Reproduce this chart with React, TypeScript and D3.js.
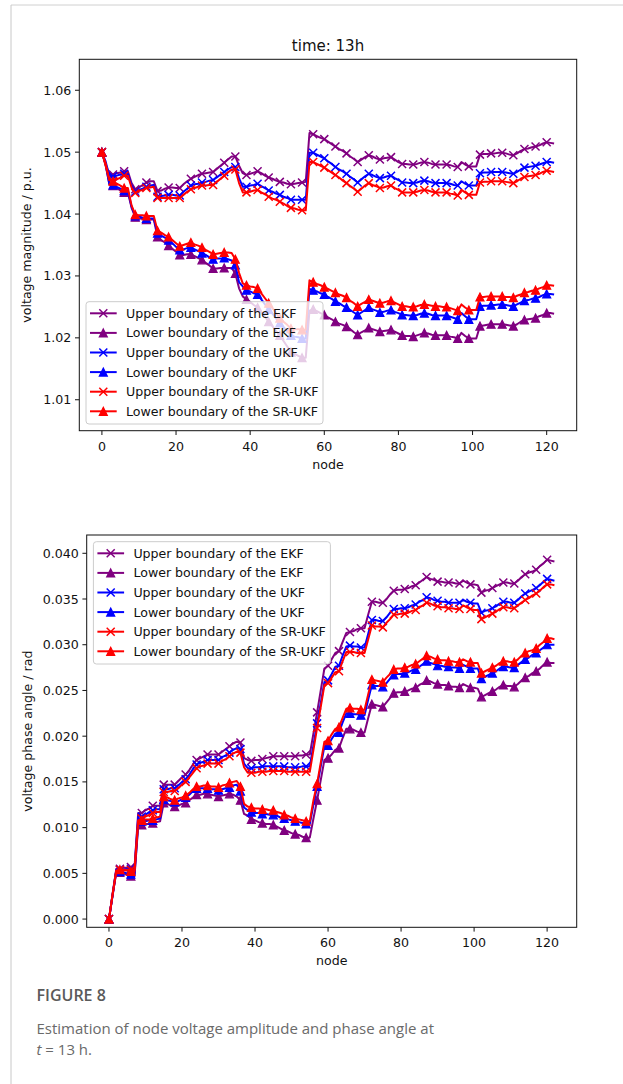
import React from 'react';
import * as d3 from 'd3';

// voltage magnitude (p.u.), one value per node 0..122
const magEkfUpper = [
  1.05, 1.048, 1.0464, 1.0464, 1.0466, 1.0467, 1.0469, 1.0469, 1.045, 1.044, 1.0443, 1.0447, 1.0451, 1.0453, 1.0453,
  1.0437, 1.0438, 1.0441, 1.0443, 1.0443, 1.0442, 1.0442, 1.0448, 1.0453, 1.0457, 1.046, 1.0463, 1.0465, 1.0466, 1.0467,
  1.0468, 1.0473, 1.0478, 1.0483, 1.0488, 1.0493, 1.0493, 1.0478, 1.0466, 1.0463, 1.0465, 1.0467, 1.0469, 1.0466, 1.0462,
  1.0459, 1.0457, 1.0454, 1.0452, 1.0451, 1.0449, 1.0448, 1.0449, 1.045, 1.0451, 1.0452, 1.0531, 1.0529, 1.0526, 1.0523,
  1.0521, 1.0517, 1.0513, 1.0509, 1.0505, 1.0502, 1.0498, 1.0493, 1.0489, 1.0484, 1.0488, 1.0492, 1.0495, 1.0493, 1.049,
  1.0488, 1.049, 1.0491, 1.0492, 1.0488, 1.0484, 1.0481, 1.0481, 1.048, 1.048, 1.0481, 1.0483, 1.0484, 1.0483, 1.0481,
  1.048, 1.048, 1.048, 1.048, 1.0479, 1.0477, 1.0476, 1.0484, 1.048, 1.0477, 1.0477, 1.0477, 1.0496, 1.0497, 1.0497,
  1.0498, 1.0498, 1.0499, 1.0499, 1.0498, 1.0496, 1.0495, 1.0498, 1.0502, 1.0505, 1.0506, 1.0508, 1.0509, 1.0511, 1.0514,
  1.0516, 1.0515, 1.0514,
];
const magEkfLower = [
  1.05, 1.048, 1.0448, 1.0446, 1.0442, 1.0438, 1.0435, 1.0435, 1.041, 1.0395, 1.0393, 1.0392, 1.0391, 1.0391, 1.0391,
  1.0363, 1.0358, 1.0354, 1.0349, 1.0344, 1.0339, 1.0334, 1.0334, 1.0335, 1.0335, 1.0332, 1.0329, 1.0326, 1.0321, 1.0317,
  1.0312, 1.0312, 1.0313, 1.0313, 1.0313, 1.0313, 1.0304, 1.028, 1.0267, 1.0262, 1.0258, 1.0253, 1.0249, 1.0241, 1.0234,
  1.0226, 1.0219, 1.0211, 1.0204, 1.0195, 1.0186, 1.0177, 1.0174, 1.0171, 1.0168, 1.0168, 1.0244, 1.0246, 1.0243, 1.024,
  1.0237, 1.0233, 1.023, 1.0226, 1.0223, 1.0221, 1.0218, 1.0214, 1.0209, 1.0205, 1.0209, 1.0212, 1.0216, 1.0214, 1.0212,
  1.021, 1.0211, 1.0212, 1.0213, 1.021, 1.0207, 1.0204, 1.0203, 1.0203, 1.0202, 1.0204, 1.0206, 1.0208, 1.0207, 1.0205,
  1.0204, 1.0204, 1.0204, 1.0204, 1.0202, 1.0201, 1.0199, 1.0208, 1.0203, 1.0199, 1.0199, 1.0199, 1.0219, 1.022, 1.0221,
  1.0222, 1.0222, 1.0222, 1.0222, 1.0221, 1.022, 1.0219, 1.0222, 1.0226, 1.0229, 1.023, 1.0231, 1.0232, 1.0235, 1.0237,
  1.024, 1.024, 1.0239,
];
const magUkfUpper = [
  1.05, 1.0485, 1.0462, 1.0461, 1.0462, 1.0464, 1.0465, 1.0465, 1.0446, 1.0436, 1.0439, 1.0441, 1.0444, 1.0446, 1.0447,
  1.0428, 1.0429, 1.043, 1.0431, 1.0431, 1.043, 1.043, 1.0436, 1.0441, 1.0446, 1.0448, 1.0449, 1.0451, 1.0452, 1.0454,
  1.0455, 1.0459, 1.0464, 1.0468, 1.0472, 1.0476, 1.0476, 1.0458, 1.0444, 1.0444, 1.0446, 1.0447, 1.0449, 1.0445, 1.0442,
  1.0438, 1.0436, 1.0433, 1.0431, 1.0428, 1.0426, 1.0423, 1.0423, 1.0423, 1.0423, 1.0423, 1.0499, 1.0499, 1.0496, 1.0493,
  1.049, 1.0485, 1.0481, 1.0476, 1.0472, 1.0469, 1.0465, 1.046, 1.0456, 1.0451, 1.0456, 1.0461, 1.0465, 1.0463, 1.046,
  1.0458, 1.0459, 1.0461, 1.0462, 1.0458, 1.0455, 1.0451, 1.0451, 1.045, 1.045, 1.0451, 1.0453, 1.0454, 1.0453, 1.0451,
  1.045, 1.045, 1.045, 1.045, 1.0449, 1.0447, 1.0446, 1.0453, 1.0449, 1.0446, 1.0446, 1.0446, 1.0466, 1.0467, 1.0467,
  1.0468, 1.0468, 1.0468, 1.0468, 1.0467, 1.0466, 1.0465, 1.0468, 1.0472, 1.0475, 1.0476, 1.0477, 1.0478, 1.048, 1.0482,
  1.0484, 1.0484, 1.0483,
];
const magUkfLower = [
  1.05, 1.048, 1.0449, 1.0447, 1.0444, 1.0441, 1.0438, 1.0438, 1.0412, 1.0397, 1.0396, 1.0394, 1.0393, 1.0393, 1.0393,
  1.0369, 1.0365, 1.0362, 1.0358, 1.0353, 1.0347, 1.0342, 1.0343, 1.0345, 1.0346, 1.0343, 1.034, 1.0337, 1.0334, 1.033,
  1.0327, 1.0328, 1.0328, 1.0329, 1.0327, 1.0325, 1.0318, 1.029, 1.0283, 1.0277, 1.0275, 1.0272, 1.027, 1.0262, 1.0254,
  1.0246, 1.0239, 1.0231, 1.0224, 1.0217, 1.0211, 1.0204, 1.0202, 1.0201, 1.0199, 1.0199, 1.0279, 1.0277, 1.0275, 1.0272,
  1.027, 1.0266, 1.0263, 1.0259, 1.0256, 1.0252, 1.0249, 1.0245, 1.0241, 1.0237, 1.0241, 1.0245, 1.0249, 1.0246, 1.0244,
  1.0241, 1.0242, 1.0244, 1.0245, 1.0242, 1.024, 1.0237, 1.0237, 1.0236, 1.0236, 1.0237, 1.0239, 1.024, 1.0239, 1.0237,
  1.0236, 1.0236, 1.0236, 1.0236, 1.0234, 1.0232, 1.023, 1.024, 1.0235, 1.023, 1.023, 1.023, 1.0251, 1.0252, 1.0252,
  1.0253, 1.0253, 1.0254, 1.0254, 1.0253, 1.0252, 1.0251, 1.0254, 1.0257, 1.026, 1.0261, 1.0263, 1.0264, 1.0266, 1.0269,
  1.0271, 1.0271, 1.027,
];
const magSrUpper = [
  1.05, 1.0478, 1.0455, 1.0453, 1.0456, 1.0459, 1.0462, 1.0462, 1.0443, 1.0434, 1.0437, 1.0439, 1.0442, 1.0443, 1.0444,
  1.0426, 1.0426, 1.0426, 1.0426, 1.0426, 1.0426, 1.0426, 1.0431, 1.0436, 1.044, 1.0442, 1.0444, 1.0446, 1.0446, 1.0447,
  1.0447, 1.0452, 1.0457, 1.0462, 1.0467, 1.0472, 1.0472, 1.045, 1.0435, 1.0435, 1.0436, 1.0438, 1.0439, 1.0435, 1.0432,
  1.0428, 1.0425, 1.0423, 1.042, 1.0417, 1.0413, 1.041, 1.0409, 1.0407, 1.0406, 1.0406, 1.0484, 1.0484, 1.0481, 1.0478,
  1.0475, 1.0471, 1.0467, 1.0463, 1.0459, 1.0454, 1.045, 1.0445, 1.0441, 1.0436, 1.0441, 1.0446, 1.045, 1.0447, 1.0445,
  1.0442, 1.0443, 1.0445, 1.0446, 1.0442, 1.0439, 1.0435, 1.0435, 1.0435, 1.0435, 1.0436, 1.0438, 1.0439, 1.0438, 1.0436,
  1.0435, 1.0435, 1.0435, 1.0435, 1.0433, 1.0432, 1.043, 1.0439, 1.0435, 1.0431, 1.0431, 1.0431, 1.0451, 1.0452, 1.0452,
  1.0453, 1.0453, 1.0453, 1.0453, 1.0452, 1.0451, 1.045, 1.0453, 1.0457, 1.046, 1.0461, 1.0462, 1.0463, 1.0465, 1.0468,
  1.047, 1.0469, 1.0468,
];
const magSrLower = [
  1.05, 1.0482, 1.0455, 1.0453, 1.0449, 1.0446, 1.0442, 1.0442, 1.0414, 1.0399, 1.0398, 1.0398, 1.0397, 1.0397, 1.0397,
  1.0373, 1.037, 1.0366, 1.0363, 1.0358, 1.0353, 1.0348, 1.035, 1.0352, 1.0354, 1.0351, 1.0349, 1.0346, 1.0342, 1.0339,
  1.0335, 1.0336, 1.0337, 1.0338, 1.0338, 1.0337, 1.0327, 1.0305, 1.0288, 1.0285, 1.0283, 1.0282, 1.028, 1.0272, 1.0264,
  1.0256, 1.0248, 1.024, 1.0232, 1.0226, 1.0221, 1.0215, 1.0214, 1.0214, 1.0213, 1.0213, 1.0293, 1.029, 1.0287, 1.0285,
  1.0282, 1.0279, 1.0276, 1.0273, 1.027, 1.0268, 1.0265, 1.026, 1.0256, 1.0251, 1.0255, 1.0258, 1.0262, 1.026, 1.0258,
  1.0256, 1.0257, 1.0259, 1.026, 1.0257, 1.0254, 1.0251, 1.0251, 1.025, 1.025, 1.0251, 1.0253, 1.0254, 1.0253, 1.0252,
  1.0251, 1.0251, 1.025, 1.025, 1.0248, 1.0246, 1.0244, 1.0254, 1.0249, 1.0245, 1.0245, 1.0245, 1.0266, 1.0266, 1.0267,
  1.0267, 1.0267, 1.0267, 1.0267, 1.0266, 1.0266, 1.0265, 1.0268, 1.027, 1.0273, 1.0274, 1.0276, 1.0277, 1.028, 1.0282,
  1.0285, 1.0285, 1.0284,
];

// voltage phase angle (rad), one value per node 0..122
const phaseEkfUpper = [
  0, 0.0028, 0.0055, 0.0055, 0.0056, 0.0056, 0.0057, 0.0057, 0.0116, 0.0116, 0.0119, 0.0121, 0.0124, 0.0124, 0.0124,
  0.0147, 0.0147, 0.0147, 0.0147, 0.0151, 0.0155, 0.0158, 0.0163, 0.0169, 0.0174, 0.0176, 0.0178, 0.018, 0.018, 0.018,
  0.018, 0.0183, 0.0186, 0.0189, 0.0192, 0.0194, 0.0193, 0.0176, 0.0174, 0.0173, 0.0174, 0.0174, 0.0175, 0.0176, 0.0177,
  0.0178, 0.0178, 0.0178, 0.0178, 0.0178, 0.0178, 0.0178, 0.0179, 0.0179, 0.018, 0.018, 0.0203, 0.0226, 0.025, 0.0274,
  0.0277, 0.0284, 0.0291, 0.0293, 0.0303, 0.0313, 0.0314, 0.0315, 0.0317, 0.0318, 0.0318, 0.0333, 0.0347, 0.0347, 0.0346,
  0.0346, 0.035, 0.0355, 0.0359, 0.036, 0.036, 0.0361, 0.0362, 0.0364, 0.0365, 0.0368, 0.0371, 0.0374, 0.0372, 0.0371,
  0.0369, 0.0369, 0.0368, 0.0368, 0.0368, 0.0367, 0.0367, 0.037, 0.0368, 0.0366, 0.0366, 0.0365, 0.0357, 0.0359, 0.036,
  0.0362, 0.0364, 0.0366, 0.0368, 0.0368, 0.0367, 0.0367, 0.037, 0.0374, 0.0377, 0.0379, 0.038, 0.0382, 0.0386, 0.0389,
  0.0393, 0.0392, 0.0391,
];
const phaseEkfLower = [
  0, 0.0026, 0.0051, 0.0051, 0.005, 0.0048, 0.0047, 0.0047, 0.0102, 0.0103, 0.0104, 0.0104, 0.0105, 0.0106, 0.0107,
  0.0127, 0.0126, 0.0124, 0.0123, 0.0124, 0.0126, 0.0127, 0.013, 0.0133, 0.0136, 0.0136, 0.0137, 0.0137, 0.0136, 0.0135,
  0.0134, 0.0135, 0.0136, 0.0137, 0.0136, 0.0134, 0.013, 0.0115, 0.0113, 0.0109, 0.0108, 0.0106, 0.0105, 0.0104, 0.0104,
  0.0103, 0.0101, 0.0099, 0.0097, 0.0096, 0.0094, 0.0093, 0.0092, 0.009, 0.0089, 0.0089, 0.011, 0.013, 0.0152, 0.0174,
  0.0176, 0.018, 0.0185, 0.0187, 0.0198, 0.0208, 0.0208, 0.0207, 0.0205, 0.0204, 0.0204, 0.022, 0.0235, 0.0234, 0.0233,
  0.0232, 0.0237, 0.0242, 0.0247, 0.0248, 0.0248, 0.0249, 0.025, 0.0252, 0.0253, 0.0256, 0.0258, 0.0261, 0.026, 0.0258,
  0.0257, 0.0256, 0.0256, 0.0255, 0.0254, 0.0254, 0.0253, 0.0257, 0.0255, 0.0253, 0.0253, 0.0252, 0.0243, 0.0245, 0.0247,
  0.0249, 0.0251, 0.0254, 0.0256, 0.0255, 0.0255, 0.0254, 0.0257, 0.0261, 0.0264, 0.0266, 0.0269, 0.0271, 0.0274, 0.0278,
  0.0281, 0.028, 0.028,
];
const phaseUkfUpper = [
  0, 0.0027, 0.0054, 0.0054, 0.0054, 0.0055, 0.0055, 0.0055, 0.0112, 0.0112, 0.0114, 0.0117, 0.0119, 0.012, 0.012,
  0.0142, 0.0142, 0.0143, 0.0143, 0.0146, 0.015, 0.0153, 0.0158, 0.0164, 0.0169, 0.0171, 0.0172, 0.0174, 0.0174, 0.0174,
  0.0174, 0.0177, 0.0179, 0.0182, 0.0185, 0.0187, 0.0186, 0.017, 0.0165, 0.0165, 0.0166, 0.0166, 0.0167, 0.0167, 0.0167,
  0.0167, 0.0167, 0.0167, 0.0167, 0.0166, 0.0166, 0.0166, 0.0166, 0.0167, 0.0167, 0.0167, 0.019, 0.0214, 0.0236, 0.0259,
  0.0261, 0.0268, 0.0276, 0.0277, 0.0288, 0.0298, 0.0299, 0.0298, 0.0298, 0.0297, 0.0297, 0.0312, 0.0327, 0.0327, 0.0326,
  0.0326, 0.033, 0.0335, 0.0339, 0.0339, 0.034, 0.034, 0.0341, 0.0343, 0.0344, 0.0347, 0.0349, 0.0352, 0.0351, 0.0349,
  0.0348, 0.0347, 0.0347, 0.0346, 0.0346, 0.0346, 0.0346, 0.0349, 0.0347, 0.0346, 0.0345, 0.0345, 0.0335, 0.0337, 0.0338,
  0.034, 0.0342, 0.0345, 0.0347, 0.0347, 0.0346, 0.0346, 0.0349, 0.0353, 0.0356, 0.0358, 0.036, 0.0362, 0.0365, 0.0369,
  0.0372, 0.0371, 0.037,
];
const phaseUkfLower = [
  0, 0.0026, 0.0052, 0.0052, 0.0051, 0.005, 0.0049, 0.0049, 0.0104, 0.0107, 0.0107, 0.0108, 0.0108, 0.0109, 0.011,
  0.0131, 0.013, 0.0129, 0.0128, 0.0129, 0.0131, 0.0133, 0.0136, 0.014, 0.0143, 0.0143, 0.0143, 0.0143, 0.0142, 0.0142,
  0.0141, 0.0142, 0.0143, 0.0144, 0.0146, 0.0147, 0.014, 0.0122, 0.0119, 0.0117, 0.0116, 0.0116, 0.0115, 0.0115, 0.0114,
  0.0114, 0.0113, 0.0111, 0.011, 0.0109, 0.0108, 0.0107, 0.0106, 0.0105, 0.0104, 0.0104, 0.0125, 0.0145, 0.0167, 0.0189,
  0.019, 0.0197, 0.0203, 0.0204, 0.0215, 0.0225, 0.0225, 0.0224, 0.0224, 0.0223, 0.0223, 0.024, 0.0256, 0.0255, 0.0255,
  0.0254, 0.0258, 0.0263, 0.0267, 0.0268, 0.0268, 0.0269, 0.027, 0.0272, 0.0273, 0.0276, 0.0279, 0.0282, 0.028, 0.0279,
  0.0277, 0.0277, 0.0276, 0.0276, 0.0275, 0.0275, 0.0274, 0.0278, 0.0276, 0.0274, 0.0274, 0.0274, 0.0263, 0.0265, 0.0267,
  0.0269, 0.0271, 0.0274, 0.0276, 0.0276, 0.0275, 0.0275, 0.0278, 0.0281, 0.0284, 0.0286, 0.0289, 0.0291, 0.0294, 0.0297,
  0.03, 0.03, 0.03,
];
const phaseSrUpper = [
  0, 0.0027, 0.0053, 0.0054, 0.0054, 0.0054, 0.0054, 0.0054, 0.0108, 0.011, 0.0112, 0.0114, 0.0116, 0.0117, 0.0117,
  0.0139, 0.0139, 0.014, 0.014, 0.0143, 0.0147, 0.015, 0.0155, 0.016, 0.0165, 0.0167, 0.0168, 0.017, 0.017, 0.017,
  0.017, 0.0173, 0.0175, 0.0178, 0.0181, 0.0183, 0.0182, 0.0166, 0.016, 0.016, 0.016, 0.0161, 0.0161, 0.0161, 0.0162,
  0.0162, 0.0162, 0.0162, 0.0162, 0.0161, 0.0161, 0.0161, 0.0161, 0.0161, 0.0161, 0.0161, 0.0185, 0.0209, 0.0232, 0.0256,
  0.0258, 0.0264, 0.027, 0.0271, 0.0282, 0.0292, 0.0292, 0.0292, 0.0291, 0.0291, 0.0291, 0.0306, 0.0321, 0.032, 0.032,
  0.0319, 0.0324, 0.0328, 0.0333, 0.0333, 0.0334, 0.0334, 0.0335, 0.0337, 0.0338, 0.0341, 0.0343, 0.0346, 0.0345, 0.0343,
  0.0342, 0.0341, 0.0341, 0.034, 0.034, 0.0339, 0.0339, 0.0343, 0.0341, 0.0339, 0.0338, 0.0338, 0.0328, 0.033, 0.0332,
  0.0334, 0.0336, 0.0339, 0.0341, 0.0341, 0.034, 0.034, 0.0343, 0.0346, 0.0349, 0.0351, 0.0354, 0.0356, 0.0359, 0.0363,
  0.0366, 0.0366, 0.0365,
];
const phaseSrLower = [
  0, 0.0027, 0.0053, 0.0054, 0.0053, 0.0053, 0.0052, 0.0052, 0.0107, 0.0108, 0.0109, 0.0109, 0.011, 0.0111, 0.0112,
  0.0134, 0.0133, 0.0131, 0.013, 0.0132, 0.0133, 0.0135, 0.0138, 0.0142, 0.0145, 0.0145, 0.0146, 0.0146, 0.0145, 0.0145,
  0.0144, 0.0146, 0.0147, 0.0149, 0.015, 0.0151, 0.0145, 0.0126, 0.0123, 0.0122, 0.0121, 0.0121, 0.012, 0.012, 0.0119,
  0.0119, 0.0117, 0.0116, 0.0114, 0.0113, 0.0111, 0.011, 0.0109, 0.0108, 0.0107, 0.0107, 0.013, 0.0148, 0.0171, 0.0194,
  0.0195, 0.0202, 0.0208, 0.021, 0.022, 0.023, 0.0231, 0.023, 0.023, 0.0229, 0.0229, 0.0246, 0.0262, 0.0261, 0.026,
  0.0259, 0.0264, 0.0268, 0.0273, 0.0274, 0.0274, 0.0275, 0.0276, 0.0278, 0.0279, 0.0282, 0.0285, 0.0288, 0.0287, 0.0285,
  0.0284, 0.0283, 0.0283, 0.0282, 0.0282, 0.0281, 0.0281, 0.0284, 0.0282, 0.0281, 0.028, 0.028, 0.0269, 0.0271, 0.0273,
  0.0275, 0.0277, 0.028, 0.0282, 0.0282, 0.0281, 0.0281, 0.0284, 0.0288, 0.0291, 0.0293, 0.0294, 0.0296, 0.03, 0.0303,
  0.0307, 0.0307, 0.0306,
];

const seriesLabels = [
  'Upper boundary of the EKF',
  'Lower boundary of the EKF',
  'Upper boundary of the UKF',
  'Lower boundary of the UKF',
  'Upper boundary of the SR-UKF',
  'Lower boundary of the SR-UKF',
];
const seriesColors = ['purple', 'purple', 'blue', 'blue', 'red', 'red'];
const seriesMarkers = ['x', '^', 'x', '^', 'x', '^'];

const nodeTicks = [0, 20, 40, 60, 80, 100, 120];
const magTicks = [1.01, 1.02, 1.03, 1.04, 1.05, 1.06];
const magTickLabels = ['1.01', '1.02', '1.03', '1.04', '1.05', '1.06'];
const phaseTicks = [0, 0.005, 0.01, 0.015, 0.02, 0.025, 0.03, 0.035, 0.04];
const phaseTickLabels = ['0.000', '0.005', '0.010', '0.015', '0.020', '0.025', '0.030', '0.035', '0.040'];

const FONT = 'DejaVu Sans, sans-serif';
const FS = 12.6;

function Marker({ kind, x, y, color }) {
  if (kind === 'x') {
    const s = 4;
    return (
      <path
        d={`M${x - s},${y - s}L${x + s},${y + s}M${x - s},${y + s}L${x + s},${y - s}`}
        stroke={color}
        strokeWidth={1.5}
        fill="none"
      />
    );
  }
  const s = 4;
  return (
    <path
      d={`M${x},${y - s}L${x + s},${y + s}L${x - s},${y + s}Z`}
      fill={color}
      stroke={color}
      strokeWidth={1.2}
      strokeLinejoin="miter"
    />
  );
}

function Panel({ frame, yDomain, series, yTicks, yTickLabels, yLabel, yLabelX, legendPos, title }) {
  const x = d3.scaleLinear().domain([-6.1, 128.1]).range([frame.left, frame.right]);
  const y = d3.scaleLinear().domain(yDomain).range([frame.bottom, frame.top]);
  const line = d3
    .line<number>()
    .x((_, i) => x(i))
    .y((d) => y(d));
  const clipId = `clip-${Math.round(frame.top)}`;
  const lgW = 237;
  const lgH = 122.3;
  const lgX = frame.left + 6.7;
  const lgY = legendPos === 'lower left' ? frame.bottom - 6.7 - lgH : frame.top + 6.7;
  const midY = (frame.top + frame.bottom) / 2;

  return (
    <g>
      <defs>
        <clipPath id={clipId}>
          <rect x={frame.left} y={frame.top} width={frame.right - frame.left} height={frame.bottom - frame.top} />
        </clipPath>
      </defs>
      {title && (
        <text x={(frame.left + frame.right) / 2} y={frame.top - 8.5} textAnchor="middle" fontFamily={FONT} fontSize={15} fill="#111">
          {title}
        </text>
      )}
      <g clipPath={`url(#${clipId})`}>
        {series.map((vals, si) => (
          <g key={si}>
            <path d={line(vals) || ''} fill="none" stroke={seriesColors[si]} strokeWidth={2} strokeLinejoin="round" />
            {vals.map((v, i) =>
              i % 3 === 0 ? <Marker key={i} kind={seriesMarkers[si]} x={x(i)} y={y(v)} color={seriesColors[si]} /> : null
            )}
          </g>
        ))}
      </g>
      <rect
        x={frame.left}
        y={frame.top}
        width={frame.right - frame.left}
        height={frame.bottom - frame.top}
        fill="none"
        stroke="#111"
        strokeWidth={1}
      />
      {nodeTicks.map((t) => (
        <g key={t}>
          <line x1={x(t)} x2={x(t)} y1={frame.bottom} y2={frame.bottom + 4.3} stroke="#111" strokeWidth={1} />
          <text x={x(t)} y={frame.bottom + 19.8} textAnchor="middle" fontFamily={FONT} fontSize={FS} fill="#111">
            {t}
          </text>
        </g>
      ))}
      {yTicks.map((t, i) => (
        <g key={t}>
          <line x1={frame.left - 4.3} x2={frame.left} y1={y(t)} y2={y(t)} stroke="#111" strokeWidth={1} />
          <text x={frame.left - 8} y={y(t) + 4.5} textAnchor="end" fontFamily={FONT} fontSize={FS} fill="#111">
            {yTickLabels[i]}
          </text>
        </g>
      ))}
      <text x={(frame.left + frame.right) / 2} y={frame.bottom + 38} textAnchor="middle" fontFamily={FONT} fontSize={FS} fill="#111">
        node
      </text>
      <text
        transform={`translate(${yLabelX},${midY}) rotate(-90)`}
        textAnchor="middle"
        fontFamily={FONT}
        fontSize={FS}
        fill="#111"
      >
        {yLabel}
      </text>
      <g>
        <rect x={lgX} y={lgY} width={lgW} height={lgH} rx={3} fill="white" fillOpacity={0.8} stroke="#cccccc" strokeWidth={1} />
        {seriesLabels.map((lab, i) => {
          const ry = lgY + 11.6 + i * 19.6;
          return (
            <g key={lab}>
              <line x1={lgX + 4} x2={lgX + 30.7} y1={ry} y2={ry} stroke={seriesColors[i]} strokeWidth={2} />
              <Marker kind={seriesMarkers[i]} x={lgX + 17.3} y={ry} color={seriesColors[i]} />
              <text x={lgX + 40} y={ry + 4.5} fontFamily={FONT} fontSize={FS} fill="#111">
                {lab}
              </text>
            </g>
          );
        })}
      </g>
    </g>
  );
}

export default function App() {
  return (
    <svg
      width={623}
      height={1084}
      viewBox="0 0 623 1084"
      style={{ position: 'absolute', left: 0, top: 0, background: 'white' }}
    >
      <rect x={0} y={0} width={623} height={1084} fill="white" />
      <line x1={11} x2={623} y1={5} y2={5} stroke="#d0d0d0" strokeWidth={1} />
      <line x1={11} x2={11} y1={5} y2={1084} stroke="#c8c8c8" strokeWidth={1} />
      <Panel
        frame={{ left: 79.3, right: 576.7, top: 59.3, bottom: 430.7 }}
        yDomain={[1.005, 1.065]}
        series={[magEkfUpper, magEkfLower, magUkfUpper, magUkfLower, magSrUpper, magSrLower]}
        yTicks={magTicks}
        yTickLabels={magTickLabels}
        yLabel="voltage magnitude / p.u."
        yLabelX={30.5}
        legendPos="lower left"
        title="time: 13h"
      />
      <Panel
        frame={{ left: 86.7, right: 576.7, top: 535, bottom: 927.3 }}
        yDomain={[-0.0009, 0.042]}
        series={[phaseEkfUpper, phaseEkfLower, phaseUkfUpper, phaseUkfLower, phaseSrUpper, phaseSrLower]}
        yTicks={phaseTicks}
        yTickLabels={phaseTickLabels}
        yLabel="voltage phase angle / rad"
        yLabelX={31.5}
        legendPos="upper left"
        title={null}
      />
      <text x={36.5} y={1001} fontFamily="Open Sans, sans-serif" fontSize={16} fontWeight={600} fill="#5a5a5a">
        FIGURE 8
      </text>
      <text x={36.5} y={1033.5} fontFamily="Open Sans, sans-serif" fontSize={15} fill="#6a6a6a">
        Estimation of node voltage amplitude and phase angle at
      </text>
      <text x={36.5} y={1055} fontFamily="Open Sans, sans-serif" fontSize={15} fill="#6a6a6a">
        <tspan fontStyle="italic">t</tspan> = 13 h.
      </text>
    </svg>
  );
}
